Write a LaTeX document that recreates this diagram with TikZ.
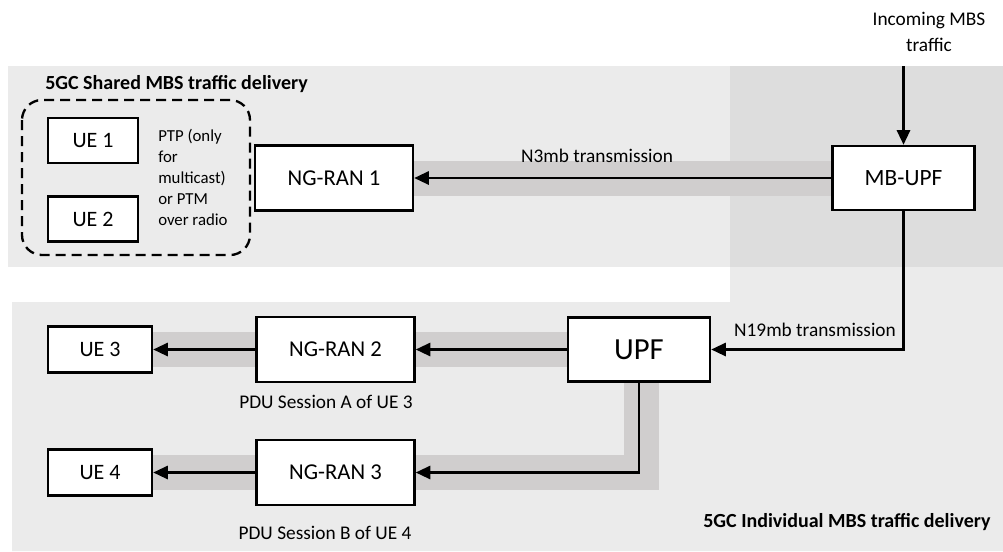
\documentclass[tikz,border=0pt]{standalone}
\usepackage{fontspec}
\setmainfont{Carlito}
\usetikzlibrary{arrows.meta}
\pgfdeclarelayer{bg}
\pgfdeclarelayer{bandlayer}
\pgfsetlayers{bg,bandlayer,main}
\definecolor{bandgray}{RGB}{208,206,206}
\definecolor{zonegray}{RGB}{235,235,235}
\definecolor{overlapgray}{RGB}{221,221,221}
\begin{document}
\begin{tikzpicture}[x=0.75pt,y=-0.75pt,
  box/.style={draw,line width=1.9pt,fill=white,inner sep=0pt,rectangle},
  uebox/.style={box,font=\fontsize{16.5}{19}\selectfont},
  ranbox/.style={box,minimum width=118.5pt,minimum height=48.75pt,font=\fontsize{17}{20}\selectfont},
  arr/.style={line width=1.6pt,line join=miter,-{Triangle[length=11pt,width=10pt]}},
  bandline/.style={line width=26.25pt,bandgray,line join=miter},
  lbl/.style={font=\fontsize{14.5}{18}\selectfont,inner sep=0pt},
  ttl/.style={font=\fontsize{15}{18}\selectfont\bfseries,inner sep=0pt}]
\useasboundingbox (0,0) rectangle (1003,551);

% nodes
\node[uebox,minimum width=67.5pt,minimum height=33.75pt] (ue1) at (93,140.5) {UE 1};
\node[uebox,minimum width=67.5pt,minimum height=33.75pt] (ue2) at (93,219) {UE 2};
\node[ranbox] (ngran1) at (334,178) {NG-RAN 1};
\node[box,minimum width=106.5pt,minimum height=48pt,font=\fontsize{17.5}{21}\selectfont] (mbupf) at (903.5,178) {MB-UPF};
\node[box,minimum width=106.5pt,minimum height=48pt,font=\fontsize{23}{27}\selectfont] (upf) at (639,349.5) {UPF};
\node[ranbox] (ngran2) at (335.5,349.5) {NG-RAN 2};
\node[ranbox] (ngran3) at (335.5,472.5) {NG-RAN 3};
\node[uebox,minimum width=78pt,minimum height=34.5pt] (ue3) at (100,349.5) {UE 3};
\node[uebox,minimum width=78pt,minimum height=34.5pt] (ue4) at (100,472.5) {UE 4};

% texts
\node[ttl,anchor=west] (t1) at (45,84) {5GC Shared MBS traffic delivery};
\node[ttl,anchor=west] (t2) at (703,522) {5GC Individual MBS traffic delivery};
\node[inner sep=0pt,anchor=north west,align=left,font=\fontsize{12.6}{15.8}\selectfont] (ptp) at (158,129) {PTP (only\\for\\multicast)\\or PTM\\over radio};
\node[lbl,align=center,font=\fontsize{14.5}{19}\selectfont] (inc) at (929,32) {Incoming MBS\\traffic};
\node[lbl] (n3) at (597,156) {N3mb transmission};
\node[lbl] (n19) at (815,330) {N19mb transmission};
\node[lbl] (pa) at (326,402) {PDU Session A of UE 3};
\node[lbl] (pb) at (325,533) {PDU Session B of UE 4};
\coordinate (in) at (903.5,66);

% background zones
\begin{pgfonlayer}{bg}
\fill[zonegray] (8,66) rectangle (1003,267);
\fill[zonegray] (12,302) -- (730,302) -- (730,66) -- (1003,66) -- (1003,551) -- (12,551) -- cycle;
\fill[overlapgray] (730,66) rectangle (1003,267);
\draw[line width=1.75pt,dash pattern=on 7.5pt off 4.5pt,rounded corners=15pt] (22,100) rectangle (250,255);
\end{pgfonlayer}

% grey transmission bands
\begin{pgfonlayer}{bandlayer}
\draw[bandline] (mbupf.center) -- (ngran1.center);
\draw[bandline] (upf.center) -- (ngran2.center);
\draw[bandline] (ngran2.center) -- (ue3.center);
\draw[bandline] ([xshift=1.9pt]upf.center) |- (ngran3.center);
\draw[bandline] (ngran3.center) -- (ue4.center);
\end{pgfonlayer}

% connectors
\draw[arr] (in) -- (mbupf.north);
\draw[arr] (mbupf.west) -- (ngran1.east);
\draw[arr] (mbupf.south) |- (upf.east);
\draw[arr] (upf.west) -- (ngran2.east);
\draw[arr] (ngran2.west) -- (ue3.east);
\draw[arr] (upf.south) |- (ngran3.east);
\draw[arr] (ngran3.west) -- (ue4.east);
\end{tikzpicture}
\end{document}
